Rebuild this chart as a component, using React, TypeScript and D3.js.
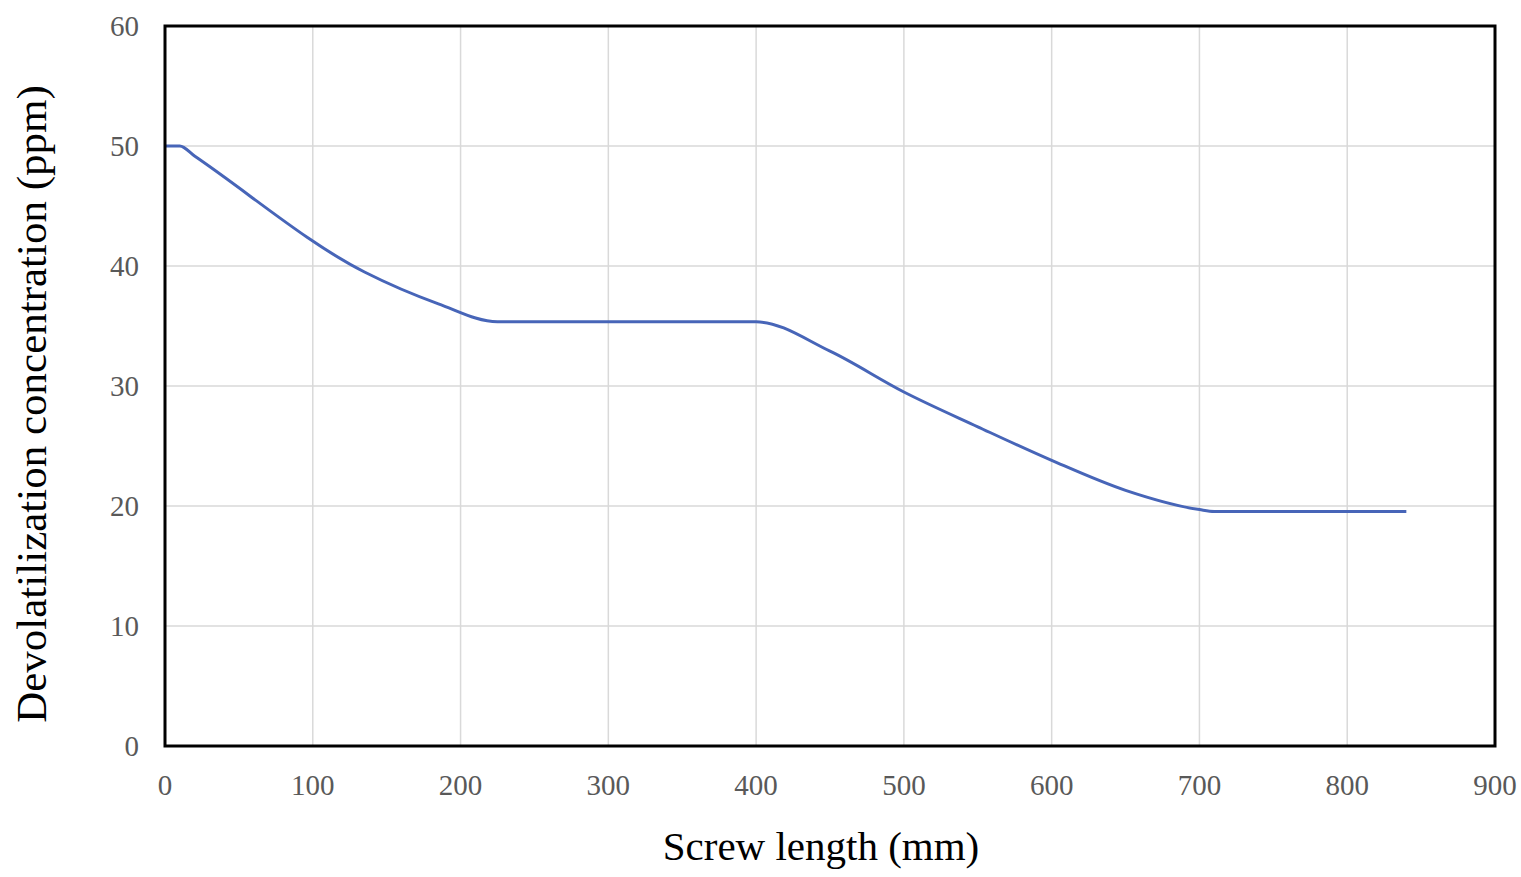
import React from "react";
import * as d3 from "d3";

const xValues = [0, 10, 20, 135, 185, 225, 400, 450, 500, 550, 600, 650, 700, 710, 840];
const yValues = [50, 50, 49.16, 39.5, 36.85, 35.35, 35.35, 32.9, 29.5, 26.6, 23.8, 21.3, 19.7, 19.55, 19.55];
const xTicks = [0, 100, 200, 300, 400, 500, 600, 700, 800, 900];
const yTicks = [0, 10, 20, 30, 40, 50, 60];

export default function App() {
  const W = 1521, H = 877;
  const left = 165, right = 1495, top = 26, bottom = 746;
  const x = d3.scaleLinear().domain([0, 900]).range([left, right]);
  const y = d3.scaleLinear().domain([0, 60]).range([bottom, top]);
  const pts = xValues.map((v, i) => [v, yValues[i]] as [number, number]);
  const line = d3.line<[number, number]>().x(d => x(d[0])).y(d => y(d[1])).curve(d3.curveMonotoneX);
  const font = "'Liberation Serif', 'DejaVu Serif', serif";
  return (
    <svg width={W} height={H} style={{ position: "absolute", left: 0, top: 0, background: "#fff" }}>
      {xTicks.map(t => (
        <line key={"gx" + t} x1={x(t)} x2={x(t)} y1={top} y2={bottom} stroke="#d9d9d9" strokeWidth={1.5} />
      ))}
      {yTicks.map(t => (
        <line key={"gy" + t} x1={left} x2={right} y1={y(t)} y2={y(t)} stroke="#d9d9d9" strokeWidth={1.5} />
      ))}
      <path d={line(pts) || ""} fill="none" stroke="#4765b8" strokeWidth={3} />
      <rect x={left} y={top} width={right - left} height={bottom - top} fill="none" stroke="#000" strokeWidth={3} />
      {xTicks.map(t => (
        <text key={"tx" + t} x={x(t)} y={795} textAnchor="middle" fontFamily={font} fontSize={29} fill="#595959">{t}</text>
      ))}
      {yTicks.map(t => (
        <text key={"ty" + t} x={139} y={y(t)} dy="0.35em" textAnchor="end" fontFamily={font} fontSize={29} fill="#595959">{t}</text>
      ))}
      <text x={821} y={860} textAnchor="middle" fontFamily={font} fontSize={41} fill="#000">Screw length (mm)</text>
      <text transform={`translate(46, 404) rotate(-90)`} textAnchor="middle" fontFamily={font} fontSize={43} fill="#000">Devolatilization concentration (ppm)</text>
    </svg>
  );
}
